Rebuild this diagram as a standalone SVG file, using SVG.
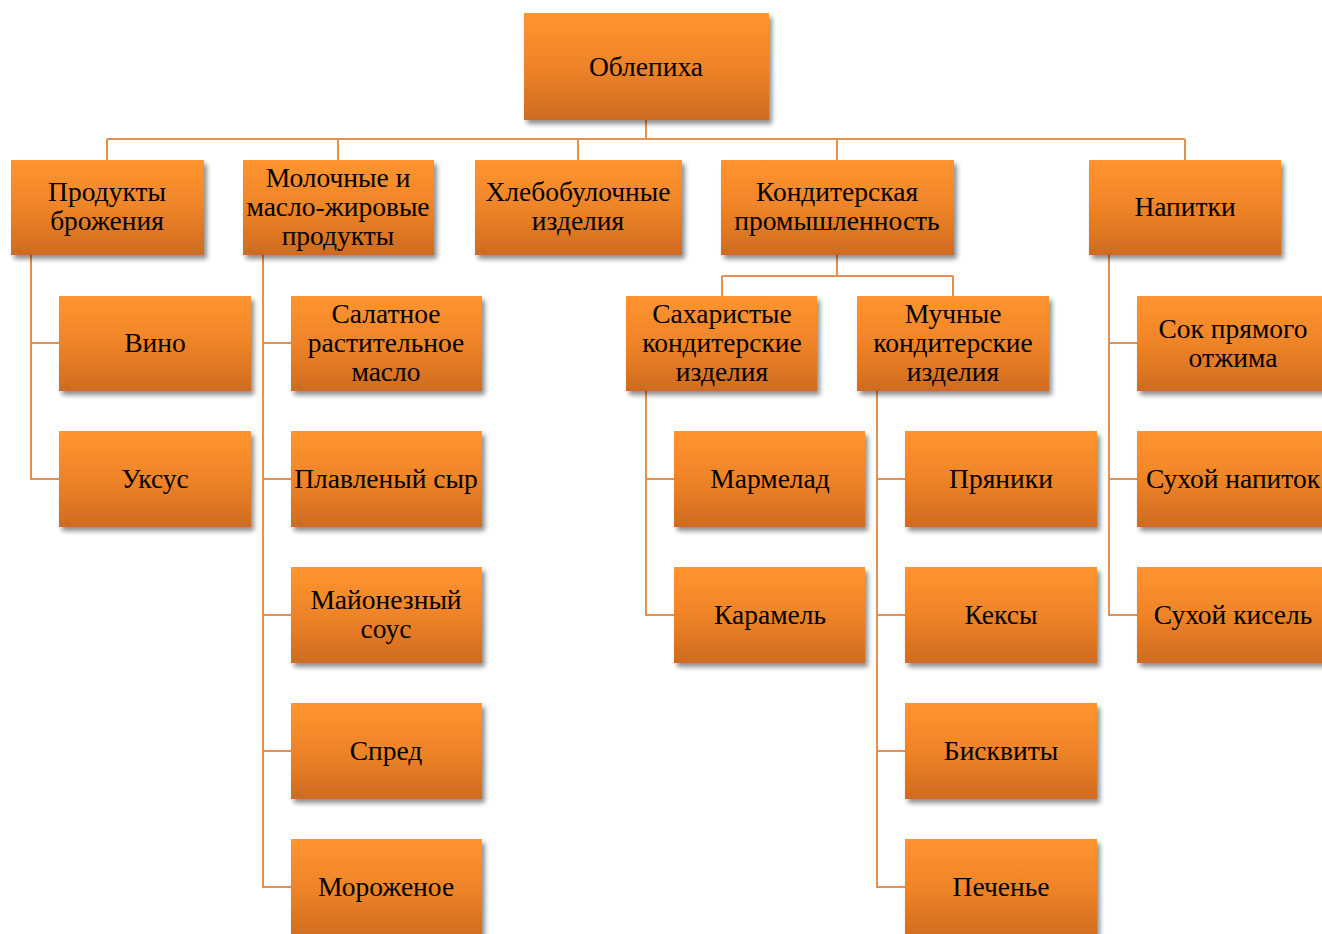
<svg xmlns="http://www.w3.org/2000/svg" width="1322" height="934" viewBox="0 0 1322 934">
<defs>
<linearGradient id="g" x1="0" y1="0" x2="0" y2="1">
<stop offset="0" stop-color="#FE9530"/>
<stop offset="0.5" stop-color="#EE8428"/>
<stop offset="1" stop-color="#CE6B20"/>
</linearGradient>
<filter id="sh" x="-10%" y="-10%" width="130%" height="140%">
<feGaussianBlur in="SourceAlpha" stdDeviation="2.5"/>
<feOffset dx="3" dy="4" result="b"/>
<feComponentTransfer><feFuncA type="linear" slope="0.45"/></feComponentTransfer>
<feMerge><feMergeNode/><feMergeNode in="SourceGraphic"/></feMerge>
</filter>
</defs>
<style>
rect.n{fill:url(#g);filter:url(#sh)}
text{font-family:"Liberation Serif","Times New Roman",serif;font-size:27.5px;fill:#000;text-anchor:middle}
.c path{fill:none;stroke:#E4904E;stroke-width:2}
</style>
<rect width="1322" height="934" fill="#fff"/>
<g class="c" id="connectors">
<path d="M646 120V139M107 139H1185M107 139V160M338 139V160M578 139V160M837 139V160M1185 139V160"/>
<path d="M31 255V479H59M31 343H59"/>
<path d="M263 255V887H291M263 343H291M263 479H291M263 615H291M263 751H291"/>
<path d="M837 255V276M722 276H953M722 276V296M953 276V296"/>
<path d="M646 391V615H674M646 479H674"/>
<path d="M877 391V887H905M877 479H905M877 615H905M877 751H905"/>
<path d="M1109 255V615H1137M1109 343H1137M1109 479H1137"/>
</g>
<g id="root"><rect class="n" x="524" y="13" width="245" height="107"/><text x="646" y="76">Облепиха</text></g>
<g id="n1"><rect class="n" x="11" y="160" width="193" height="95"/><text x="107" y="201">Продукты</text><text x="107" y="230">брожения</text></g>
<g id="n2"><rect class="n" x="243" y="160" width="191" height="95"/><text x="338" y="187">Молочные и</text><text x="338" y="216">масло-жировые</text><text x="338" y="245">продукты</text></g>
<g id="n3"><rect class="n" x="475" y="160" width="207" height="95"/><text x="578" y="201">Хлебобулочные</text><text x="578" y="230">изделия</text></g>
<g id="n4"><rect class="n" x="721" y="160" width="233" height="95"/><text x="837" y="201">Кондитерская</text><text x="837" y="230">промышленность</text></g>
<g id="n5"><rect class="n" x="1089" y="160" width="192" height="95"/><text x="1185" y="216">Напитки</text></g>
<g id="wine"><rect class="n" x="59" y="296" width="192" height="95"/><text x="155" y="352">Вино</text></g>
<g id="vinegar"><rect class="n" x="59" y="431" width="192" height="96"/><text x="155" y="488">Уксус</text></g>
<g id="m1"><rect class="n" x="291" y="296" width="191" height="95"/><text x="386" y="323">Салатное</text><text x="386" y="352">растительное</text><text x="386" y="381">масло</text></g>
<g id="m2"><rect class="n" x="291" y="431" width="191" height="96"/><text x="386" y="488">Плавленый сыр</text></g>
<g id="m3"><rect class="n" x="291" y="567" width="191" height="96"/><text x="386" y="609">Майонезный</text><text x="386" y="638">соус</text></g>
<g id="m4"><rect class="n" x="291" y="703" width="191" height="96"/><text x="386" y="760">Спред</text></g>
<g id="m5"><rect class="n" x="291" y="839" width="191" height="100"/><text x="386" y="896">Мороженое</text></g>
<g id="s"><rect class="n" x="626" y="296" width="191" height="95"/><text x="722" y="323">Сахаристые</text><text x="722" y="352">кондитерские</text><text x="722" y="381">изделия</text></g>
<g id="mu"><rect class="n" x="857" y="296" width="192" height="95"/><text x="953" y="323">Мучные</text><text x="953" y="352">кондитерские</text><text x="953" y="381">изделия</text></g>
<g id="s1"><rect class="n" x="674" y="431" width="191" height="96"/><text x="770" y="488">Мармелад</text></g>
<g id="s2"><rect class="n" x="674" y="567" width="191" height="96"/><text x="770" y="624">Карамель</text></g>
<g id="mu1"><rect class="n" x="905" y="431" width="192" height="96"/><text x="1001" y="488">Пряники</text></g>
<g id="mu2"><rect class="n" x="905" y="567" width="192" height="96"/><text x="1001" y="624">Кексы</text></g>
<g id="mu3"><rect class="n" x="905" y="703" width="192" height="96"/><text x="1001" y="760">Бисквиты</text></g>
<g id="mu4"><rect class="n" x="905" y="839" width="192" height="100"/><text x="1001" y="896">Печенье</text></g>
<g id="d1"><rect class="n" x="1137" y="296" width="192" height="95"/><text x="1233" y="338">Сок прямого</text><text x="1233" y="367">отжима</text></g>
<g id="d2"><rect class="n" x="1137" y="431" width="192" height="96"/><text x="1233" y="488">Сухой напиток</text></g>
<g id="d3"><rect class="n" x="1137" y="567" width="192" height="96"/><text x="1233" y="624">Сухой кисель</text></g>
</svg>
